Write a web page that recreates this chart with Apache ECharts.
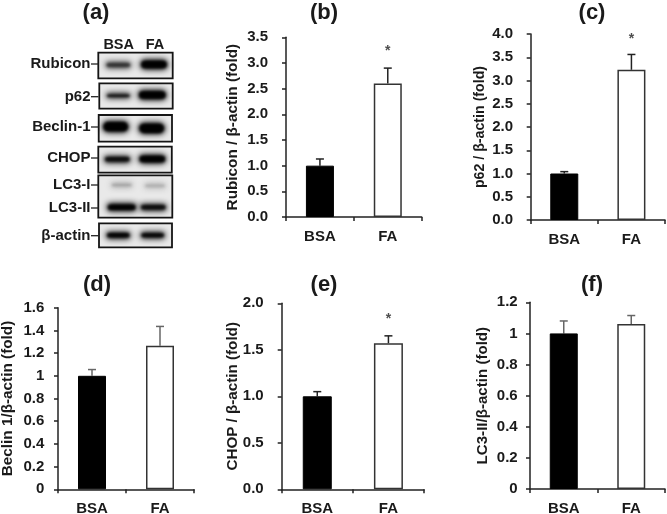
<!DOCTYPE html>
<html><head><meta charset="utf-8">
<style>html,body{margin:0;padding:0;background:#fff}#c{width:667px;height:514px}canvas{filter:blur(0.35px)}</style>
<script src="https://cdn.jsdelivr.net/npm/echarts@6/dist/echarts.min.js"></script>
</head><body><div id="c"></div>
<script>
const categories = ['BSA', 'FA'];
const rubiconValues = [1.0, 2.6];
const rubiconErrors = [0.13, 0.3];
const p62Values = [1.0, 3.23];
const p62Errors = [0.04, 0.33];
const beclinValues = [1.0, 1.265];
const beclinErrors = [0.055, 0.17];
const chopValues = [1.0, 1.57];
const chopErrors = [0.05, 0.08];
const lc3Values = [1.0, 1.06];
const lc3Errors = [0.08, 0.055];
const blotLabels = ['Rubicon', 'p62', 'Beclin-1', 'CHOP', 'LC3-I', 'LC3-II', 'β-actin'];

const FONT = '"Liberation Sans", Arial, sans-serif';
const panels = [
  {tag:'(b)', name:'Rubicon / β-actin (fold)', v:rubiconValues, e:rubiconErrors, max:3.5, step:0.5, fixed:true, star:3.23, l:286, r:421.7, t:37.3, b:217, gap:45.5, nf:15.3, m:18, bw:28, tx:319, ty:-3, ec:'#222'},
  {tag:'(c)', name:'p62 / β-actin (fold)', v:p62Values, e:p62Errors, max:4, step:0.5, fixed:true, star:3.88, l:530.7, r:665, t:34, b:220, gap:43.7, nf:14.2, m:17.7, bw:28, tx:587, ty:-3, ec:'#222'},
  {tag:'(d)', name:'Beclin 1/β-actin (fold)', v:beclinValues, e:beclinErrors, max:1.6, step:0.2, fixed:false, star:null, l:58, r:194, t:307.7, b:489.3, gap:42.5, nf:15.3, m:13.7, bw:28, tx:92, ty:269, ec:'#666'},
  {tag:'(e)', name:'CHOP / β-actin (fold)', v:chopValues, e:chopErrors, max:2, step:0.5, fixed:true, star:1.825, l:281.7, r:424, t:303.3, b:489.3, gap:41, nf:15.2, m:18, bw:29, tx:319, ty:269, ec:'#222'},
  {tag:'(f)', name:'LC3-II/β-actin (fold)', v:lc3Values, e:lc3Errors, max:1.2, step:0.2, fixed:false, star:null, l:530, r:665, t:302.3, b:489, gap:39.5, nf:15.1, m:12.3, bw:28, tx:587, ty:269, ec:'#666'}
];

const grid = [], xAxis = [], yAxis = [], series = [], title = [];
title.push({text:'(a)', left:91, top:-3, textAlign:'center', textStyle:{fontFamily:FONT, fontSize:22, fontWeight:'bold', color:'#1a1a1a'}});
panels.forEach((p, i) => {
  grid.push({left:p.l, top:p.t, width:p.r - p.l, height:p.b - p.t, containLabel:false, outerBoundsMode:'none'});
  title.push({text:p.tag, left:p.tx, top:p.ty, textAlign:'center', textStyle:{fontFamily:FONT, fontSize:22, fontWeight:'bold', color:'#1a1a1a'}});
  xAxis.push({type:'category', gridIndex:i, data:categories, boundaryGap:true,
    axisLine:{lineStyle:{color:'#222', width:1.5}},
    axisTick:{show:true, length:4, inside:false, lineStyle:{color:'#222', width:1.5}},
    axisLabel:{fontFamily:FONT, fontSize:15, fontWeight:'bold', color:'#1a1a1a', margin:12}});
  yAxis.push({type:'value', gridIndex:i, min:0, max:p.max, interval:p.step, splitLine:{show:false},
    name:p.name, nameLocation:'middle', nameGap:p.gap, nameRotate:90, nameMoveOverlap:false,
    nameTextStyle:{fontFamily:FONT, fontSize:p.nf, fontWeight:'bold', color:'#1a1a1a'},
    axisLine:{show:true, lineStyle:{color:'#222', width:1.5}},
    axisTick:{show:true, length:4, lineStyle:{color:'#222', width:1.5}},
    axisLabel:{fontFamily:FONT, fontSize:15, fontWeight:'bold', color:'#1a1a1a', margin:p.m,
      formatter: p.fixed ? (v => v.toFixed(1)) : (v => String(Math.round(v * 10) / 10))}});
  series.push({type:'bar', xAxisIndex:i, yAxisIndex:i, barWidth:p.bw, z:3,
    data:p.v.map((v, k) => ({value:v, itemStyle:k === 0
      ? {color:'#000', borderColor:'#000', borderWidth:1}
      : {color:'#fff', borderColor:'#333', borderWidth:1.5}}))});
  series.push({type:'custom', xAxisIndex:i, yAxisIndex:i, z:2, silent:true,
    data:p.v.map((v, k) => [k, v, p.e[k]]),
    encode:{x:0, y:[1, 2]},
    renderItem:(params, api) => {
      const top = api.coord([api.value(0), api.value(1) + api.value(2)]);
      const base = api.coord([api.value(0), api.value(1)]);
      const st = {stroke:p.ec, lineWidth:1.5, fill:null};
      return {type:'group', children:[
        {type:'line', shape:{x1:base[0], y1:base[1], x2:top[0], y2:top[1]}, style:st},
        {type:'line', shape:{x1:top[0] - 4, y1:top[1], x2:top[0] + 4, y2:top[1]}, style:st}
      ]};
    }});
  if (p.star !== null) {
    series.push({type:'scatter', xAxisIndex:i, yAxisIndex:i, symbolSize:0, silent:true,
      data:[[1, p.star]],
      label:{show:true, position:'inside', formatter:'*', fontFamily:FONT, fontSize:14, fontWeight:'bold', color:'#222'}});
  }
});

// Western-blot panel (a): frames, lane names, and blurred bands
const frames = [
  {x:98.3, y:52.7, w:74.4, h:25.6}, {x:99.3, y:83.3, w:73.4, h:25.4}, {x:98.7, y:115, w:73.3, h:26.7},
  {x:98.3, y:146.7, w:73.5, h:26}, {x:98.3, y:175.3, w:74, h:42.4}, {x:99, y:223.3, w:73, h:24}
];
const labelY = [64, 96.7, 127, 158, 185, 208, 235.7];
const bands = [
  [118.3,65,13,3,'#2a2a2a'],[154,64.5,14,5,'#000'],
  [118.3,95.7,12.5,2.4,'#000'],[152.3,95,14.5,5,'#000'],
  [115.7,126.7,13.5,5.8,'#000'],[151.7,128.3,13.5,5.8,'#000'],
  [117.3,159.3,13.5,3.4,'#0a0a0a'],[152.3,159,14,4.4,'#000'],
  [121.7,185,11,2,'#9a9a9a'],[155,185.7,11,2,'#a4a4a4'],
  [121.7,207.3,15,4,'#000'],[153.3,207.3,13.5,3.4,'#0a0a0a'],
  [118.3,235.3,12.5,3.4,'#000'],[152.7,235.3,12.5,3.2,'#000']
];
const OFF = 1000;
const graphic = [];
frames.forEach(f => graphic.push({type:'rect', silent:true, z:1, shape:{x:f.x, y:f.y, width:f.w, height:f.h},
  style:{fill:'#e9e9e9', stroke:'#151515', lineWidth:1.8}}));
bands.forEach(b => {
  [[0, 6], [1.2, 3]].forEach(layer => {
    const rx = b[2] - layer[0], ry = Math.max(b[3] - layer[0], 1);
    graphic.push({type:'rect', silent:true, z:2,
      shape:{x:b[0] - rx - OFF, y:b[1] - ry, width:2 * rx, height:2 * ry, r:ry},
      style:{fill:b[4], shadowColor:b[4], shadowBlur:layer[1], shadowOffsetX:OFF}});
  });
});
blotLabels.forEach((t, i) => {
  graphic.push({type:'text', silent:true, z:3, style:{text:t, x:90.5, y:labelY[i], align:'right', verticalAlign:'middle',
    font:'bold 15px ' + FONT, fill:'#1a1a1a'}});
  graphic.push({type:'line', silent:true, z:3, shape:{x1:91, y1:labelY[i], x2:98.5, y2:labelY[i]}, style:{stroke:'#222', lineWidth:1.3}});
});
[[118.7, categories[0]], [155, categories[1]]].forEach(a =>
  graphic.push({type:'text', silent:true, z:3, style:{text:a[1], x:a[0], y:45, align:'center', verticalAlign:'middle',
    font:'bold 14.5px ' + FONT, fill:'#1a1a1a'}}));

const chart = echarts.init(document.getElementById('c'), null, {renderer:'canvas'});
chart.setOption({animation:false, backgroundColor:'#fff', title, grid, xAxis, yAxis, series, graphic});
</script></body></html>
